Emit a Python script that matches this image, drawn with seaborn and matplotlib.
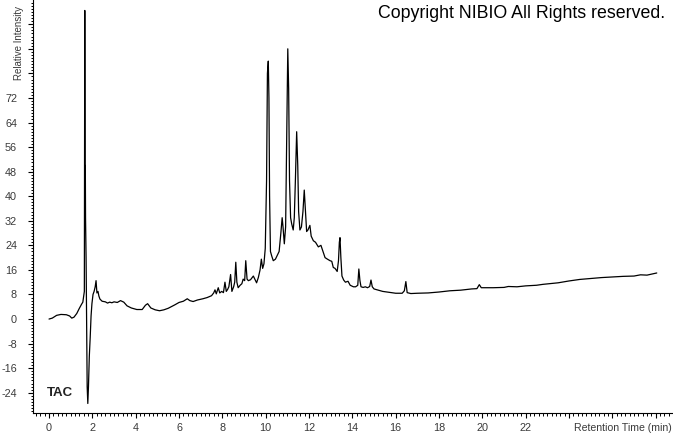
import matplotlib
matplotlib.use('Agg')
import matplotlib.pyplot as plt
from matplotlib.ticker import MultipleLocator
import seaborn as sns
import pandas as pd

# Retention time (min) and relative intensity
retention_time = [
    0.00, 0.15, 0.35, 0.55, 0.80, 0.95, 1.05, 1.15, 1.28, 1.40, 1.50, 1.56,
    1.60, 1.63, 1.65, 1.665, 1.675, 1.685, 1.71, 1.74, 1.76, 1.79, 1.82, 1.86,
    1.90, 1.94, 1.98, 2.03, 2.08, 2.13, 2.17, 2.21, 2.26, 2.30, 2.35, 2.45,
    2.60, 2.70, 2.80, 2.90, 3.00, 3.15, 3.30, 3.45, 3.60, 3.80, 4.05, 4.30,
    4.45, 4.55, 4.70, 4.90, 5.10, 5.30, 5.50, 5.80, 6.00, 6.20, 6.38, 6.50,
    6.65, 6.85, 7.10, 7.30, 7.50, 7.60, 7.66, 7.72, 7.81, 7.88, 7.97, 8.05,
    8.12, 8.18, 8.24, 8.30, 8.38, 8.44, 8.52, 8.57, 8.62, 8.67, 8.73, 8.82,
    8.90, 8.96, 9.03, 9.08, 9.14, 9.20, 9.30, 9.43, 9.50, 9.58, 9.66, 9.74,
    9.80, 9.86, 9.92, 9.98, 10.04, 10.08, 10.12, 10.15, 10.18, 10.22, 10.28,
    10.35, 10.45, 10.55, 10.62, 10.70, 10.76, 10.80, 10.86, 10.92, 10.97,
    11.02, 11.06, 11.10, 11.15, 11.20, 11.27, 11.32, 11.37, 11.43, 11.48,
    11.52, 11.58, 11.65, 11.72, 11.78, 11.83, 11.89, 11.95, 12.04, 12.10,
    12.20, 12.30, 12.43, 12.55, 12.62, 12.74, 12.85, 12.97, 13.05, 13.12,
    13.20, 13.30, 13.36, 13.40, 13.43, 13.47, 13.52, 13.60, 13.68, 13.80,
    13.90, 14.05, 14.15, 14.25, 14.30, 14.35, 14.40, 14.50, 14.60, 14.70,
    14.80, 14.86, 14.92, 15.00, 15.10, 15.40, 15.70, 16.00, 16.30, 16.40,
    16.47, 16.53, 16.70, 17.00, 17.50, 18.00, 18.50, 19.00, 19.50, 19.75,
    19.86, 19.95, 20.50, 21.00, 21.20, 21.60, 22.00, 22.50, 22.80, 23.50,
    24.00, 24.50, 25.00, 25.50, 26.00, 26.50, 27.00, 27.30, 27.60, 27.80,
    28.05,
]
intensity = [
    0.0, 0.3, 1.2, 1.5, 1.4, 1.0, 0.3, 0.6, 1.8, 3.5, 4.8, 5.5,
    7.5, 9.0, 100.5, 49.0, 50.0, 33.0, 20.0, -5.0, -22.0, -27.5, -22.0, -12.0,
    -6.0, 1.0, 5.0, 8.0, 9.0, 10.5, 12.5, 8.5, 9.0, 7.5, 6.5, 5.8,
    5.6, 5.2, 5.5, 5.3, 5.6, 5.4, 6.0, 5.5, 4.3, 3.6, 3.1, 3.1,
    4.5, 5.0, 3.6, 3.0, 2.7, 3.0, 3.5, 4.6, 5.4, 5.8, 6.6, 6.0,
    5.7, 6.2, 6.6, 7.0, 7.6, 8.5, 9.5, 8.2, 10.2, 8.5, 9.0, 8.6,
    12.0, 9.0, 9.6, 10.5, 14.5, 9.0, 10.5, 12.0, 18.5, 12.0, 10.2, 11.0,
    11.5, 13.0, 12.5, 19.0, 13.0, 12.5, 12.8, 14.0, 13.0, 11.8, 13.5, 16.0,
    19.5, 16.5, 18.0, 23.0, 45.0, 80.0, 84.0, 72.0, 40.0, 22.0, 20.5,
    19.0, 19.5, 21.0, 22.0, 28.0, 33.0, 30.0, 24.5, 30.0, 60.0,
    88.0, 75.0, 45.0, 33.0, 31.0, 29.0, 33.0, 45.0, 61.0, 50.0,
    35.0, 29.0, 30.0, 35.0, 42.0, 36.0, 28.5, 29.0, 30.5, 27.0,
    25.5, 25.0, 23.5, 24.0, 22.5, 20.0, 19.5, 19.0, 18.8, 16.8,
    16.5, 15.5, 19.0, 25.0, 26.5, 20.0, 14.0, 12.7, 12.0, 12.3,
    11.0, 10.5, 10.5, 11.0, 16.3, 12.5, 10.5, 10.3, 10.5, 10.2,
    10.6, 12.7, 10.5, 9.8, 9.6, 9.0, 8.7, 8.4, 8.4, 9.2,
    12.2, 8.6, 8.3, 8.4, 8.5, 8.8, 9.2, 9.4, 9.8, 9.9,
    11.2, 10.2, 10.2, 10.3, 10.6, 10.5, 10.8, 11.0, 11.3, 11.8,
    12.4, 12.9, 13.2, 13.5, 13.7, 13.9, 14.0, 14.4, 14.3, 14.6,
    15.0,
]

x_ticks = [0, 2, 4, 6, 8, 10, 12, 14, 16, 18, 20, 22, 24, 26, 28]
x_tick_labels = ['0', '2', '4', '6', '8', '10', '12', '14', '16', '18', '20', '22', '', '', '']
y_ticks = [-24, -16, -8, 0, 8, 16, 24, 32, 40, 48, 56, 64, 72, 80, 88, 96]
y_tick_labels = ['-24', '-16', '-8', '0', '8', '16', '24', '32', '40', '48', '56', '64', '72', '', '', '']

sns.set_style('ticks')
plt.rcParams['font.family'] = ['Liberation Sans', 'DejaVu Sans']

df = pd.DataFrame({'time': retention_time, 'intensity': intensity})

W, H = 673, 433
fig = plt.figure(figsize=(W / 100, H / 100), dpi=100)
ax = fig.add_axes([33 / W, 20 / H, 1 - 33 / W, 1 - 20 / H])

sns.lineplot(data=df, x='time', y='intensity', sort=False, estimator=None,
             color='black', linewidth=0.9, ax=ax)

ax.set_xlim(-0.74, 28.8)
ax.set_ylim(-30.6, 103.9)

ax.set_xticks(x_ticks)
ax.set_xticklabels(x_tick_labels)
ax.set_yticks(y_ticks)
ax.set_yticklabels(y_tick_labels)
ax.xaxis.set_minor_locator(MultipleLocator(0.2))
ax.yaxis.set_minor_locator(MultipleLocator(1))

ax.tick_params(axis='both', which='major', length=3.5, width=0.8, color='black',
               labelsize=7.8, labelcolor='#3a3a3a')
ax.tick_params(axis='both', which='minor', length=1.8, width=0.7, color='black')
ax.tick_params(axis='x', which='major', pad=4)
ax.tick_params(axis='y', which='major', pad=8)

ax.set_xlabel('')
ax.set_ylabel('')
for side in ['top', 'right']:
    ax.spines[side].set_visible(False)
for side in ['left', 'bottom']:
    ax.spines[side].set_linewidth(0.8)
    ax.spines[side].set_color('black')

# Axis titles placed like the instrument software does
fig.text(19 / W, 1 - 80 / H, 'Relative Intensity', rotation=90, ha='center', va='bottom',
         fontsize=7.0, color='#3a3a3a')
fig.text(672 / W, 1 - 428 / H, 'Retention Time (min)', ha='right', va='center',
         fontsize=7.6, color='#3a3a3a')
fig.text(665 / W, 1 - 14 / H, 'Copyright NIBIO All Rights reserved.', ha='right', va='center',
         fontsize=12.8, color='black')
fig.text(47 / W, 1 - 393 / H, 'TAC', ha='left', va='center', fontsize=9.5,
         fontweight='bold', color='#222222')

fig.savefig('out.png', dpi=100, facecolor='white')
plt.close(fig)
